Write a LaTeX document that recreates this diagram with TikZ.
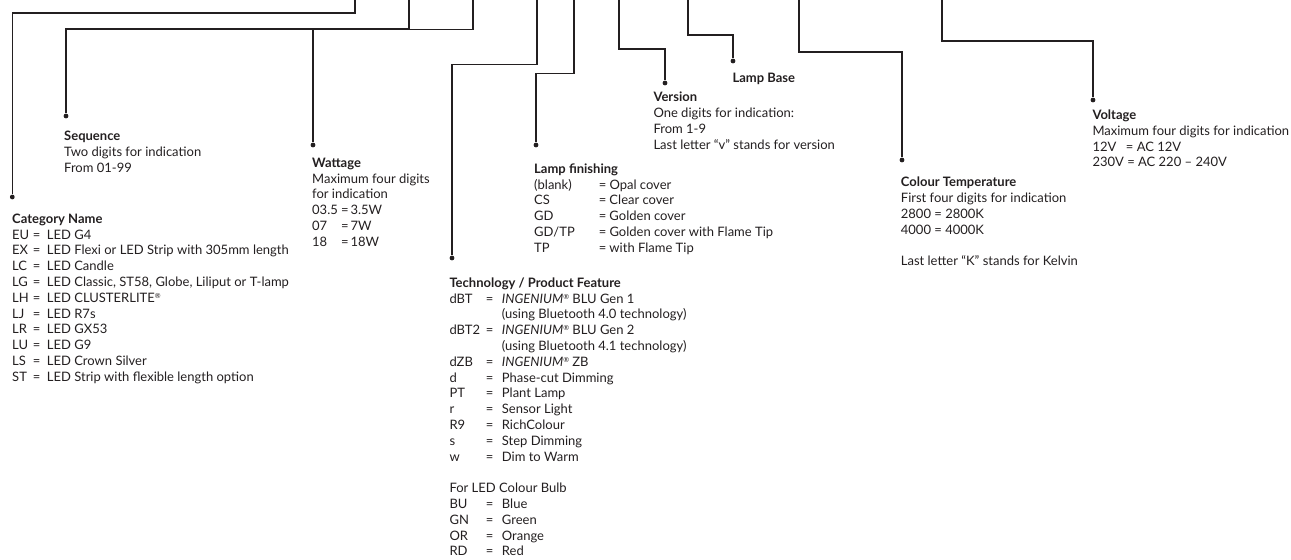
\documentclass[tikz,border=0pt]{standalone}
\usepackage{fontspec}
\setmainfont{Lato}
\definecolor{ink}{RGB}{35,31,32}
\newcommand\regm{\raisebox{4bp}{\fontsize{7bp}{7bp}\selectfont ®}}
\newcommand\kv[4]{\makebox[#1][l]{#3}\makebox[#2][l]{=}#4}
\newcommand\catkv{\kv{20.7bp}{14bp}}
\newcommand\watkv{\kv{29bp}{9.3bp}}
\newcommand\teckv{\kv{36.4bp}{16bp}}
\newcommand\finkv{\kv{64.7bp}{10.6bp}}
\tikzset{
  conn/.style={draw=ink, line width=1.2bp},
  dot/.style={circle, fill=ink, inner sep=0pt, minimum size=4.8bp},
  txt/.style={anchor=base west, inner sep=0pt, text=ink, font=\fontsize{13bp}{15.8bp}\selectfont},
}
\begin{document}
\begin{tikzpicture}[x=1bp, y=-1bp]
\useasboundingbox (0,0) rectangle (1291,560);
% top ends
\coordinate (tcat) at (355,-2);
\coordinate (tseq) at (409,-2);
\coordinate (twat) at (473,-2);
\coordinate (ttec) at (537,-2);
\coordinate (tfin) at (574,-2);
\coordinate (tver) at (619,-2);
\coordinate (tbas) at (688,-2);
\coordinate (tcol) at (799,-2);
\coordinate (tvol) at (942,-2);
% dots
\node[dot] (dcat) at (12.3,197) {};
\node[dot] (dseq) at (66,116) {};
\node[dot] (dwat) at (313,145) {};
\node[dot] (dtec) at (452,258) {};
\node[dot] (dfin) at (536,145) {};
\node[dot] (dver) at (665,83) {};
\node[dot] (dbas) at (733,61) {};
\node[dot] (dcol) at (902,160) {};
\node[dot] (dvol) at (1093,100) {};
% connectors
\draw[conn] (tcat) -- ++(0,15) -| (dcat);
\draw[conn] (tseq) -- ++(0,31) -| (dseq);
\draw[conn] (twat) -- ++(0,31.5) -| (dwat);
\draw[conn] (ttec) -- ++(0,66.5) -| (dtec);
\draw[conn] (tfin) -- ++(0,75.3) -| (dfin);
\draw[conn] (tver) -- ++(0,51) -| (dver);
\draw[conn] (tbas) -- ++(0,37) -| (dbas);
\draw[conn] (tcol) -- ++(0,54) -| (dcol);
\draw[conn] (tvol) -- ++(0,43) -| (dvol);
% texts
\node[txt] (cat) at (12,223.3) {\begin{tabular}[t]{@{}l@{}}
\textbf{Category Name}\\
\catkv{EU}{LED G4}\\
\catkv{EX}{LED Flexi or LED Strip with 305mm length}\\
\catkv{LC}{LED Candle}\\
\catkv{LG}{LED Classic, ST58, Globe, Liliput or T-lamp}\\
\catkv{LH}{LED CLUSTERLITE\regm}\\
\catkv{LJ}{LED R7s}\\
\catkv{LR}{LED GX53}\\
\catkv{LU}{LED G9}\\
\catkv{LS}{LED Crown Silver}\\
\catkv{ST}{LED Strip with flexible length option}
\end{tabular}};
\node[txt] (seq) at (64,140.5) {\begin{tabular}[t]{@{}l@{}}
\textbf{Sequence}\\
Two digits for indication\\
From 01-99
\end{tabular}};
\node[txt] (wat) at (312,167.3) {\begin{tabular}[t]{@{}l@{}}
\textbf{Wattage}\\
Maximum four digits\\
for indication\\
\watkv{03.5}{3.5W}\\
\watkv{07}{7W}\\
\watkv{18}{18W}
\end{tabular}};
\node[txt] (tec) at (449.3,287.3) {\begin{tabular}[t]{@{}l@{}}
\textbf{Technology / Product Feature}\\
\teckv{dBT}{\textit{INGENIUM}\regm{} BLU Gen 1}\\
\hspace*{52.4bp}(using Bluetooth 4.0 technology)\\
\teckv{dBT2}{\textit{INGENIUM}\regm{} BLU Gen 2}\\
\hspace*{52.4bp}(using Bluetooth 4.1 technology)\\
\teckv{dZB}{\textit{INGENIUM}\regm{} ZB}\\
\teckv{d}{Phase-cut Dimming}\\
\teckv{PT}{Plant Lamp}\\
\teckv{r}{Sensor Light}\\
\teckv{R9}{RichColour}\\
\teckv{s}{Step Dimming}\\
\teckv{w}{Dim to Warm}\\
\\
For LED Colour Bulb\\
\teckv{BU}{Blue}\\
\teckv{GN}{Green}\\
\teckv{OR}{Orange}\\
\teckv{RD}{Red}
\end{tabular}};
\node[txt] (fin) at (534,173.3) {\begin{tabular}[t]{@{}l@{}}
\textbf{Lamp finishing}\\
\finkv{(blank)}{Opal cover}\\
\finkv{CS}{Clear cover}\\
\finkv{GD}{Golden cover}\\
\finkv{GD/TP}{Golden cover with Flame Tip}\\
\finkv{TP}{with Flame Tip}
\end{tabular}};
\node[txt] (ver) at (653.3,101.7) {\begin{tabular}[t]{@{}l@{}}
\textbf{Version}\\
One digits for indication:\\
From 1-9\\
Last letter “v” stands for version
\end{tabular}};
\node[txt] (bas) at (732.3,82.5) {\textbf{Lamp Base}};
\node[txt] (col) at (900.7,187) {\begin{tabular}[t]{@{}l@{}}
\textbf{Colour Temperature}\\
First four digits for indication\\
2800 = 2800K\\
4000 = 4000K\\
\\
Last letter “K” stands for Kelvin
\end{tabular}};
\node[txt] (vol) at (1092.3,119.5) {\begin{tabular}[t]{@{}l@{}}
\textbf{Voltage}\\
Maximum four digits for indication\\
\makebox[33.4bp][l]{12V}= AC 12V\\
230V = AC 220 -- 240V
\end{tabular}};
\end{tikzpicture}
\end{document}
